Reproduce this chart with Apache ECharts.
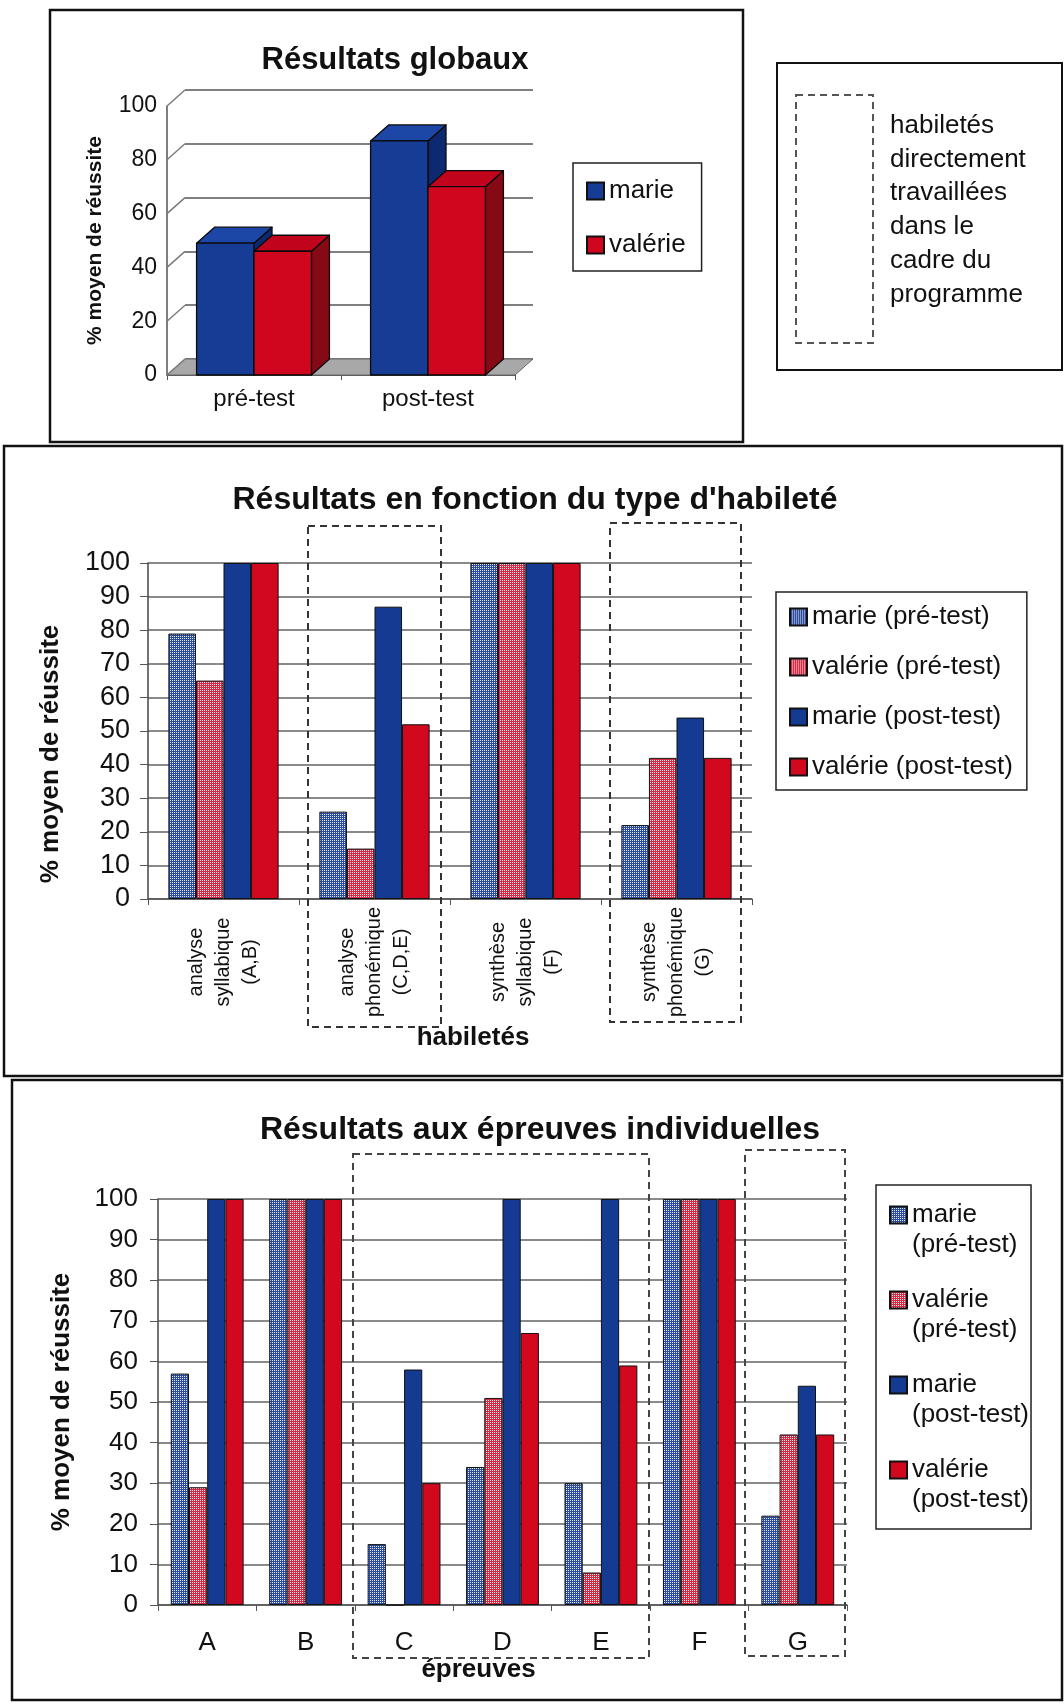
<!DOCTYPE html>
<html>
<head>
<meta charset="utf-8">
<script src="https://cdn.jsdelivr.net/npm/echarts@6/dist/echarts.min.js"></script>
<style>
  html, body { margin: 0; padding: 0; background: #fff; }
  #c { width: 1064px; height: 1705px; }
</style>
</head>
<body>
<div id="c"></div>
<script>
// ---- Résultats globaux ----
const globalCategories = ['pré-test', 'post-test'];
const globalMarie = [49, 87];
const globalValerie = [46, 70];
const globalTicks = [0, 20, 40, 60, 80, 100];

// ---- Résultats en fonction du type d'habileté ----
const skillCategories = [
  'analyse\nsyllabique\n(A,B)',
  'analyse\nphonémique\n(C,D,E)',
  'synthèse\nsyllabique\n(F)',
  'synthèse\nphonémique\n(G)'
];
const skillMariePre = [79, 26, 100, 22];
const skillValeriePre = [65, 15, 100, 42];
const skillMariePost = [100, 87, 100, 54];
const skillValeriePost = [100, 52, 100, 42];

// ---- Résultats aux épreuves individuelles ----
const testCategories = ['A', 'B', 'C', 'D', 'E', 'F', 'G'];
const testMariePre = [57, 100, 15, 34, 30, 100, 22];
const testValeriePre = [29, 100, 0, 51, 8, 100, 42];
const testMariePost = [100, 100, 58, 100, 100, 100, 54];
const testValeriePost = [100, 100, 30, 67, 59, 100, 42];

const seriesNames = ['marie (pré-test)', 'valérie (pré-test)', 'marie (post-test)', 'valérie (post-test)'];
const noteLines = ['habiletés', 'directement', 'travaillées', 'dans le', 'cadre du', 'programme'];

const FONT = '"Liberation Sans", Arial, Helvetica, sans-serif';
const INK = '#111';

// fine dotted fill used for the pre-test bars
function dotted(base, dot) {
  const c = document.createElement('canvas');
  c.width = 4; c.height = 4;
  const g = c.getContext('2d');
  g.fillStyle = base; g.fillRect(0, 0, 4, 4);
  g.fillStyle = dot;
  g.fillRect(0, 0, 1, 1); g.fillRect(2, 2, 1, 1);
  g.fillRect(2, 0, 1, 1); g.fillRect(0, 2, 1, 1);
  return { image: c, repeat: 'repeat' };
}
const BLUE = '#143a92';
const RED = '#d2081f';
const BLUE_DOT = dotted('#2d4c9c', '#dfe6f6');
const RED_DOT = dotted('#d42a44', '#fde0e5');
const seriesColors = [BLUE_DOT, RED_DOT, BLUE, RED];

// ---- 3D look for the first chart ----
const DEPTH = [18, -16];
const faces = {
  marie:   { front: '#163c95', top: '#1d47a6', side: '#0d2a70' },
  valerie: { front: '#d0061e', top: '#c1041c', side: '#860a16' }
};

function prism(side, f) {
  return function (params, api) {
    const cat = api.value(0);
    const base = api.coord([cat, 0]);
    const top = api.coord([cat, api.value(1)]);
    const band = api.size([1, 0])[0];
    const bw = band * 0.33;
    const x0 = side === 0 ? base[0] - bw : base[0];
    const x1 = x0 + bw, yt = top[1], yb = base[1];
    const dx = DEPTH[0], dy = DEPTH[1];
    const edge = { stroke: '#0a0a0a', lineWidth: 1.3, lineJoin: 'round' };
    return {
      type: 'group',
      children: [
        { type: 'polygon', shape: { points: [[x1, yt], [x1 + dx, yt + dy], [x1 + dx, yb + dy], [x1, yb]] },
          style: Object.assign({ fill: f.side }, edge) },
        { type: 'polygon', shape: { points: [[x0, yt], [x0 + dx, yt + dy], [x1 + dx, yt + dy], [x1, yt]] },
          style: Object.assign({ fill: f.top }, edge) },
        { type: 'rect', shape: { x: x0, y: yt, width: bw, height: yb - yt },
          style: Object.assign({ fill: f.front }, edge) }
      ]
    };
  };
}

// floor and side wall edges of the 3D chart
function floorItem(params, api) {
  const cs = params.coordSys;
  const x = cs.x, w = cs.width, yb = cs.y + cs.height;
  const dx = DEPTH[0], dy = DEPTH[1];
  const children = [{
    type: 'polygon',
    shape: { points: [[x, yb], [x + dx, yb + dy], [x + w + dx, yb + dy], [x + w, yb]] },
    style: { fill: '#a8a8a8', stroke: '#6a6a6a', lineWidth: 1 }
  }];
  globalTicks.forEach(function (t) {
    const y = api.coord([0, t])[1];
    children.push({ type: 'line', shape: { x1: x, y1: y, x2: x + dx, y2: y + dy },
      style: { stroke: '#7a7a7a', lineWidth: 1.5 } });
  });
  return { type: 'group', children: children };
}

function flatBars(xi, gap) {
  const sets = xi === 2
    ? [skillMariePre, skillValeriePre, skillMariePost, skillValeriePost]
    : [testMariePre, testValeriePre, testMariePost, testValeriePost];
  return sets.map(function (d, i) {
    return {
      type: 'bar', name: seriesNames[i], data: d,
      xAxisIndex: xi, yAxisIndex: xi,
      barGap: '0%', barCategoryGap: gap,
      itemStyle: { color: seriesColors[i], borderColor: '#111', borderWidth: 1 },
      emphasis: { disabled: true }, z: 3
    };
  });
}

const labelStyle = { color: INK, fontFamily: FONT };
const gridLine = { show: true, lineStyle: { color: '#8a8a8a', width: 2 } };

const option = {
  animation: false,
  backgroundColor: '#fff',
  textStyle: { fontFamily: FONT },
  grid: [
    { left: 167, top: 106, width: 348, height: 269 },          // front plane
    { left: 185, top: 90, width: 348, height: 269 },           // back wall
    { left: 148, top: 563, width: 604, height: 336 },
    { left: 158, top: 1199, width: 689, height: 406 }
  ],
  xAxis: [
    { gridIndex: 0, type: 'category', data: globalCategories,
      axisLine: { show: true, lineStyle: { color: '#555', width: 1 } },
      axisTick: { show: true, length: 5, lineStyle: { color: '#555' } },
      axisLabel: Object.assign({ fontSize: 24, margin: 12 }, labelStyle) },
    { gridIndex: 1, type: 'category', data: globalCategories, show: false },
    { gridIndex: 2, type: 'category', data: skillCategories,
      axisLine: { show: true, lineStyle: { color: '#555', width: 1.5 } },
      axisTick: { show: true, length: 6, lineStyle: { color: '#555' } },
      axisLabel: Object.assign({ interval: 0, rotate: 90, align: 'center', verticalAlign: 'middle',
        margin: 63, fontSize: 20, lineHeight: 27 }, labelStyle),
      name: 'habiletés', nameLocation: 'middle', nameGap: 126,
      nameTextStyle: { fontSize: 26, fontWeight: 'bold', color: INK, fontFamily: FONT, padding: [0, 0, 0, 46] } },
    { gridIndex: 3, type: 'category', data: testCategories,
      axisLine: { show: true, lineStyle: { color: '#555', width: 1.5 } },
      axisTick: { show: true, length: 6, lineStyle: { color: '#555' } },
      axisLabel: Object.assign({ interval: 0, fontSize: 26, margin: 25 }, labelStyle),
      name: 'épreuves', nameLocation: 'middle', nameGap: 52,
      nameTextStyle: { fontSize: 26, fontWeight: 'bold', color: INK, fontFamily: FONT, padding: [0, 48, 0, 0] } }
  ],
  yAxis: [
    { gridIndex: 0, type: 'value', min: 0, max: 100, interval: 20,
      axisLine: { show: true, lineStyle: { color: '#555', width: 1.5 } },
      axisTick: { show: false }, splitLine: { show: false },
      axisLabel: Object.assign({ fontSize: 23, margin: 10 }, labelStyle),
      name: '% moyen de réussite', nameLocation: 'middle', nameGap: 61,
      nameTextStyle: { fontSize: 21, fontWeight: 'bold', color: INK, fontFamily: FONT } },
    { gridIndex: 1, type: 'value', min: 0, max: 100, interval: 20,
      axisLine: { show: false }, axisTick: { show: false }, axisLabel: { show: false },
      splitLine: { show: true, lineStyle: { color: '#808080', width: 2 } } },
    { gridIndex: 2, type: 'value', min: 0, max: 100, interval: 10,
      axisLine: { show: true, lineStyle: { color: '#444', width: 1.5 } },
      axisTick: { show: true, length: 8, lineStyle: { color: '#555' } },
      splitLine: gridLine,
      axisLabel: Object.assign({ fontSize: 27, margin: 18 }, labelStyle),
      name: '% moyen de réussite', nameLocation: 'middle', nameGap: 84,
      nameTextStyle: { fontSize: 26, fontWeight: 'bold', color: INK, fontFamily: FONT, padding: [0, 46, 0, 0] } },
    { gridIndex: 3, type: 'value', min: 0, max: 100, interval: 10,
      axisLine: { show: true, lineStyle: { color: '#444', width: 1.5 } },
      axisTick: { show: true, length: 8, lineStyle: { color: '#555' } },
      splitLine: gridLine,
      axisLabel: Object.assign({ fontSize: 26, margin: 20 }, labelStyle),
      name: '% moyen de réussite', nameLocation: 'middle', nameGap: 83,
      nameTextStyle: { fontSize: 26, fontWeight: 'bold', color: INK, fontFamily: FONT } }
  ],
  legend: [
    { orient: 'vertical', left: 573, top: 163, data: ['marie', 'valérie'],
      icon: 'rect', itemWidth: 17, itemHeight: 17, itemGap: 28,
      padding: [15, 16, 13, 13], borderColor: '#222', borderWidth: 1.5,
      textStyle: { fontSize: 26, lineHeight: 26, color: INK, fontFamily: FONT } },
    { orient: 'vertical', left: 776, top: 592, data: seriesNames,
      icon: 'rect', itemWidth: 17, itemHeight: 17, itemGap: 24,
      padding: [12, 14, 10, 13], borderColor: '#222', borderWidth: 1.5,
      textStyle: { fontSize: 26, lineHeight: 26, color: INK, fontFamily: FONT } },
    { orient: 'vertical', left: 876, top: 1185, data: seriesNames,
      // square sits on the first text line of each two-line entry
      icon: 'path://M0,0L0,0 M0,6.5h17v17h-17z M0,60L0,60',
      itemWidth: 17, itemHeight: 60, itemGap: 23,
      padding: [14, 2, 13, 13], borderColor: '#222', borderWidth: 1.5,
      formatter: function (n) { return n.replace(' ', '\n'); },
      textStyle: { fontSize: 26, lineHeight: 30, color: INK, fontFamily: FONT } }
  ],
  series: [
    { type: 'custom', name: 'sol', xAxisIndex: 0, yAxisIndex: 0, data: [[0]],
      renderItem: floorItem, z: 1, silent: true },
    { type: 'custom', name: 'marie', xAxisIndex: 0, yAxisIndex: 0,
      data: globalMarie.map(function (v, i) { return [i, v]; }),
      renderItem: prism(0, faces.marie), z: 2,
      itemStyle: { color: faces.marie.front, borderColor: '#111', borderWidth: 1 } },
    { type: 'custom', name: 'valérie', xAxisIndex: 0, yAxisIndex: 0,
      data: globalValerie.map(function (v, i) { return [i, v]; }),
      renderItem: prism(1, faces.valerie), z: 2,
      itemStyle: { color: faces.valerie.front, borderColor: '#111', borderWidth: 1 } }
  ].concat(flatBars(2, '27%'), flatBars(3, '26%')),
  graphic: [
    // frames
    { type: 'rect', shape: { x: 50, y: 10, width: 693, height: 432 }, style: { fill: 'none', stroke: '#111', lineWidth: 2.5 }, z: 50 },
    { type: 'rect', shape: { x: 777, y: 63, width: 285, height: 307 }, style: { fill: 'none', stroke: '#111', lineWidth: 2 }, z: 50 },
    { type: 'rect', shape: { x: 4, y: 446, width: 1058, height: 630 }, style: { fill: 'none', stroke: '#111', lineWidth: 2.5 }, z: 50 },
    { type: 'rect', shape: { x: 12, y: 1080, width: 1050, height: 620 }, style: { fill: 'none', stroke: '#111', lineWidth: 2.5 }, z: 50 },
    // dashed outlines for the skills worked on in the programme
    { type: 'rect', shape: { x: 796, y: 95, width: 77, height: 248 }, style: { fill: 'none', stroke: '#555', lineWidth: 2, lineDash: [7, 5] }, z: 50 },
    { type: 'rect', shape: { x: 308, y: 526, width: 133, height: 501 }, style: { fill: 'none', stroke: '#333', lineWidth: 2, lineDash: [7, 5] }, z: 50 },
    { type: 'rect', shape: { x: 610, y: 523, width: 131, height: 499 }, style: { fill: 'none', stroke: '#333', lineWidth: 2, lineDash: [7, 5] }, z: 50 },
    { type: 'rect', shape: { x: 353, y: 1154, width: 296, height: 504 }, style: { fill: 'none', stroke: '#444', lineWidth: 2, lineDash: [7, 5] }, z: 50 },
    { type: 'rect', shape: { x: 745, y: 1150, width: 100, height: 506 }, style: { fill: 'none', stroke: '#444', lineWidth: 2, lineDash: [7, 5] }, z: 50 },
    // titles
    { type: 'text', x: 395, y: 60, z: 50, style: { text: 'Résultats globaux', fill: INK, fontFamily: FONT, fontSize: 31, fontWeight: 'bold', align: 'center', verticalAlign: 'middle' } },
    { type: 'text', x: 535, y: 500, z: 50, style: { text: "Résultats en fonction du type d'habileté", fill: INK, fontFamily: FONT, fontSize: 32, fontWeight: 'bold', align: 'center', verticalAlign: 'middle' } },
    { type: 'text', x: 540, y: 1130, z: 50, style: { text: 'Résultats aux épreuves individuelles', fill: INK, fontFamily: FONT, fontSize: 32, fontWeight: 'bold', align: 'center', verticalAlign: 'middle' } },
    // note
    { type: 'text', x: 890, y: 109, z: 50, style: { text: noteLines.join('\n'), fill: INK, fontFamily: FONT, fontSize: 26, lineHeight: 33.7, align: 'left', verticalAlign: 'top' } }
  ]
};

const chart = echarts.init(document.getElementById('c'), null, { renderer: 'canvas' });
chart.setOption(option);
</script>
</body>
</html>
